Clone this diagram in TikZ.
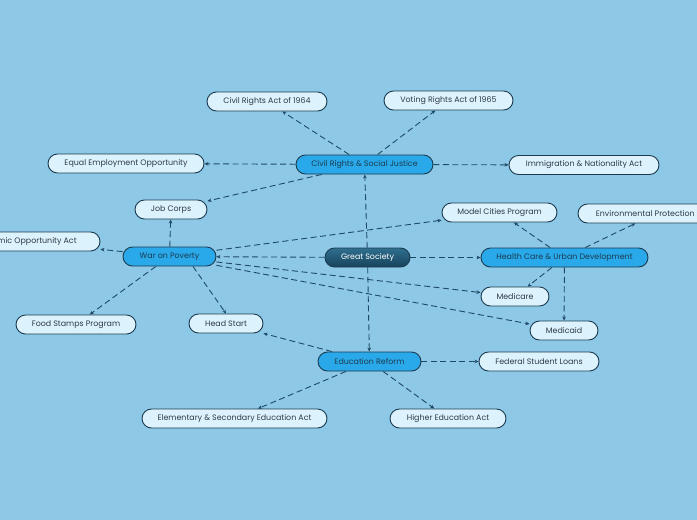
\documentclass[tikz,border=0pt]{standalone}
\usepackage{fontspec}
\setmainfont{Poppins}
\usetikzlibrary{arrows.meta}
\definecolor{bgc}{HTML}{8DC8E6}
\definecolor{lightfill}{HTML}{DCF2FC}
\definecolor{bluefill}{HTML}{29A9E9}
\definecolor{bordc}{HTML}{1C3B50}
\definecolor{linec}{HTML}{1E4A66}
\definecolor{textc}{HTML}{2D3A45}
\definecolor{gstop}{HTML}{2F6F8F}
\definecolor{gsbot}{HTML}{17435C}
\tikzset{
  base/.style={rounded corners=9.5pt, draw=bordc, line width=0.9pt, minimum height=19pt,
    inner sep=0pt, font=\fontsize{7.9}{9}\selectfont, align=center},
  leaf/.style={base, fill=lightfill, text=textc},
  topic/.style={base, fill=bluefill, text=bordc},
  root/.style={base, top color=gstop, bottom color=gsbot, text=white},
  conn/.style={draw=linec, line width=0.9pt, dash pattern=on 6pt off 3.5pt,
    -{Stealth[length=4pt,width=3.6pt]}},
}
\begin{document}
\begin{tikzpicture}[x=1pt,y=-1pt]
\fill[bgc] (0,0) rectangle (697,520);
\useasboundingbox (0,0) rectangle (697,520);
\clip (0,0) rectangle (697,520);
% nodes
\node[root, minimum width=85pt] (gs) at (367.5,257.5) {Great Society};
\node[topic, minimum width=137pt] (crsj) at (364.5,164.5) {Civil Rights \& Social Justice};
\node[leaf, minimum width=120pt] (cra) at (267,101.5) {Civil Rights Act of 1964};
\node[leaf, minimum width=129pt] (vra) at (448.5,100.5) {Voting Rights Act of 1965};
\node[leaf, minimum width=156pt] (eeo) at (126,163.5) {Equal Employment Opportunity};
\node[leaf, minimum width=150pt] (ina) at (584,165) {Immigration \& Nationality Act};
\node[leaf, minimum width=72pt] (jc) at (171,209.5) {Job Corps};
\node[leaf, minimum width=150pt] (eoa) at (25,241.5) {Economic Opportunity Act};
\node[topic, minimum width=93pt] (wop) at (169.5,256.5) {War on Poverty};
\node[leaf, minimum width=115pt] (mcp) at (499.5,212.5) {Model Cities Program};
\node[leaf, minimum width=156pt] (epl) at (656,213.5) {Environmental Protection Laws};
\node[topic, minimum width=167pt] (hc) at (564.5,257.5) {Health Care \& Urban Development};
\node[leaf, minimum width=68pt] (mcr) at (515,296.5) {Medicare};
\node[leaf, minimum width=68pt] (mcd) at (564,330.5) {Medicaid};
\node[leaf, minimum width=120pt] (fsl) at (539,361.5) {Federal Student Loans};
\node[topic, minimum width=103pt] (er) at (369.5,361.5) {Education Reform};
\node[leaf, minimum width=116pt] (hea) at (448,418.5) {Higher Education Act};
\node[leaf, minimum width=185pt] (esea) at (234.5,418.5) {Elementary \& Secondary Education Act};
\node[leaf, minimum width=120pt] (fsp) at (76,324.5) {Food Stamps Program};
\node[leaf, minimum width=74pt] (hs) at (226,323.5) {Head Start};
% connectors
\draw[conn] (gs) -- (crsj);
\draw[conn] (gs) -- (er);
\draw[conn] (gs) -- (wop);
\draw[conn] (gs) -- (hc);
\draw[conn] (crsj) -- (cra);
\draw[conn] (crsj) -- (vra);
\draw[conn] (crsj) -- (eeo);
\draw[conn] (crsj) -- (ina);
\draw[conn] (crsj) -- (jc);
\draw[conn] (wop) -- (jc);
\draw[conn] (wop) -- (eoa);
\draw[conn] (wop) -- (mcp);
\draw[conn] (wop) -- (mcr);
\draw[conn] (wop) -- (mcd);
\draw[conn] (wop) -- (fsp);
\draw[conn] ([xshift=23.5pt]wop.south) -- (hs.north);
\draw[conn] (hc) -- (mcp);
\draw[conn] (hc) -- (epl);
\draw[conn] (hc) -- (mcr);
\draw[conn] (hc) -- (mcd);
\draw[conn] (er) -- (hs);
\draw[conn] (er) -- (fsl);
\draw[conn] (er) -- (esea);
\draw[conn] (er) -- (hea);
\end{tikzpicture}
\end{document}
